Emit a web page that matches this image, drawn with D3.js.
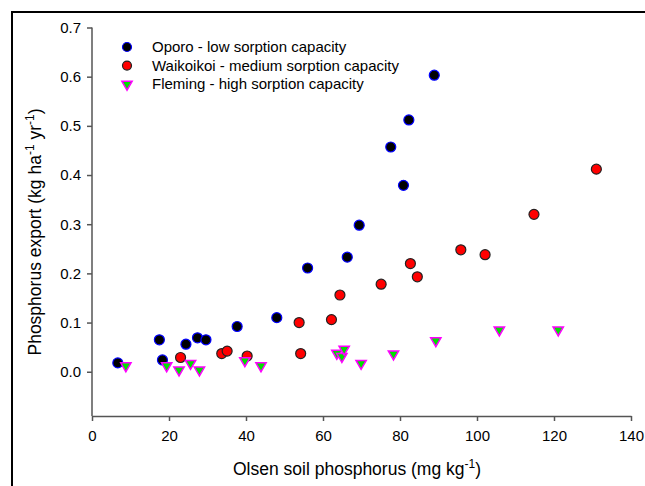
<!doctype html>
<html>
<head>
<meta charset="utf-8">
<script src="https://cdn.jsdelivr.net/npm/d3@7"></script>
<style>
  body { margin: 0; background: #fff; }
  svg { display: block; font-family: "Liberation Sans", Arial, sans-serif; }
</style>
</head>
<body>
<div id="chart"></div>
<script>
// Olsen P (mg/kg) vs P export (kg/ha/yr)
const oporoX = [6.7, 17.5, 18.3, 24.4, 27.4, 29.6, 37.7, 48, 56, 66.3, 69.4, 77.6, 80.9, 82.3, 88.9];
const oporoY = [0.018, 0.065, 0.024, 0.056, 0.069, 0.065, 0.092, 0.11, 0.211, 0.233, 0.298, 0.457, 0.379, 0.512, 0.603];

const waikX = [23, 33.7, 35.1, 40.3, 53.8, 54.2, 62.2, 64.4, 75.1, 82.7, 84.5, 95.8, 102.1, 114.8, 131];
const waikY = [0.029, 0.037, 0.042, 0.032, 0.10, 0.037, 0.106, 0.156, 0.178, 0.22, 0.193, 0.248, 0.238, 0.32, 0.412];

const flemX = [8.8, 19.4, 22.6, 25.6, 27.9, 39.7, 43.9, 63.6, 64.9, 65.5, 69.9, 78.3, 89.3, 105.8, 121.1];
const flemY = [0.012, 0.012, 0.0035, 0.017, 0.0035, 0.0225, 0.012, 0.0375, 0.031, 0.046, 0.017, 0.036, 0.063, 0.085, 0.085];

const seriesNames = ["Oporo - low sorption capacity", "Waikoikoi - medium sorption capacity", "Fleming - high sorption capacity"];
const xTicks = [0, 20, 40, 60, 80, 100, 120, 140];
const yTicks = [0.0, 0.1, 0.2, 0.3, 0.4, 0.5, 0.6, 0.7];

const W = 645, H = 486;
const plotLeft = 92, plotRight = 631, plotTop = 27.5, plotBottom = 416;

const svg = d3.select("#chart").append("svg")
    .attr("width", W)
    .attr("height", H);

// outer frame, runs off the right and bottom edges
svg.append("rect")
    .attr("x", 12).attr("y", 12)
    .attr("width", 700).attr("height", 600)
    .attr("fill", "none")
    .attr("stroke", "#000")
    .attr("stroke-width", 2);

const x = d3.scaleLinear().domain([0, 140]).range([plotLeft, plotRight]);
const y = d3.scaleLinear().domain([-0.09, 0.7]).range([plotBottom, plotTop]);

const axisColor = "#555";

const gx = svg.append("g")
    .attr("transform", `translate(0,${plotBottom})`)
    .call(d3.axisBottom(x).tickValues(xTicks).tickSize(5).tickPadding(9).tickSizeOuter(0).tickFormat(d3.format("d")));

const gy = svg.append("g")
    .attr("transform", `translate(${plotLeft},0)`)
    .call(d3.axisLeft(y).tickValues(yTicks).tickSize(5).tickPadding(6).tickSizeOuter(0).tickFormat(d3.format(".1f")));

[gx, gy].forEach(g => {
  g.select(".domain").attr("stroke", axisColor).attr("stroke-width", 1.5);
  g.selectAll(".tick line").attr("stroke", axisColor).attr("stroke-width", 1.5);
  g.selectAll(".tick text").attr("fill", "#000").attr("font-size", 15).attr("font-family", "Liberation Sans, Arial, sans-serif");
});
// y axis runs down to the x axis
gy.select(".domain").attr("d", `M0,${plotTop}V${plotBottom}`);

// axis titles
const xt = svg.append("text")
    .attr("x", 357)
    .attr("y", 475)
    .attr("text-anchor", "middle")
    .attr("font-size", 17.5);
xt.append("tspan").text("Olsen soil phosphorus (mg kg");
xt.append("tspan").attr("dy", -7).attr("font-size", 12).text("-1");
xt.append("tspan").attr("dy", 7).text(")");

const yt = svg.append("text")
    .attr("transform", `translate(41,232) rotate(-90)`)
    .attr("text-anchor", "middle")
    .attr("font-size", 17.5);
yt.append("tspan").text("Phosphorus export (kg ha");
yt.append("tspan").attr("dy", -7).attr("font-size", 12).text("-1");
yt.append("tspan").attr("dy", 7).text(" yr");
yt.append("tspan").attr("dy", -7).attr("font-size", 12).text("-1");
yt.append("tspan").attr("dy", 7).text(")");

const tri = d3.symbol().type(d3.symbolTriangle).size(46);

function drawCircles(xs, ys, fill, stroke) {
  svg.append("g")
    .selectAll("circle")
    .data(d3.zip(xs, ys))
    .join("circle")
      .attr("cx", d => x(d[0]))
      .attr("cy", d => y(d[1]))
      .attr("r", 5)
      .attr("fill", fill)
      .attr("stroke", stroke)
      .attr("stroke-width", 1.2);
}

function drawTriangles(xs, ys) {
  svg.append("g")
    .selectAll("path")
    .data(d3.zip(xs, ys))
    .join("path")
      .attr("d", tri)
      .attr("transform", d => `translate(${x(d[0])},${y(d[1])}) rotate(180)`)
      .attr("fill", "#00e000")
      .attr("stroke", "#ff00ff")
      .attr("stroke-width", 1.5);
}

drawCircles(oporoX, oporoY, "#000", "#0000ff");
drawCircles(waikX, waikY, "#ff0000", "#222");
drawTriangles(flemX, flemY);

// legend
const legend = svg.append("g").attr("font-size", 15);
const legendRows = [
  {name: seriesNames[0], kind: "circle", fill: "#000", stroke: "#0000ff"},
  {name: seriesNames[1], kind: "circle", fill: "#ff0000", stroke: "#222"},
  {name: seriesNames[2], kind: "tri"}
];
legendRows.forEach((r, i) => {
  const ly = 47 + i * 18.6;
  if (r.kind === "circle") {
    legend.append("circle").attr("cx", 127).attr("cy", ly).attr("r", 4.5)
      .attr("fill", r.fill).attr("stroke", r.stroke).attr("stroke-width", 1.2);
  } else {
    legend.append("path").attr("d", tri)
      .attr("transform", `translate(127,${ly}) rotate(180)`)
      .attr("fill", "#00e000").attr("stroke", "#ff00ff").attr("stroke-width", 1.5);
  }
  legend.append("text").attr("x", 152).attr("y", ly).attr("dy", "0.35em").text(r.name);
});
</script>
</body>
</html>
